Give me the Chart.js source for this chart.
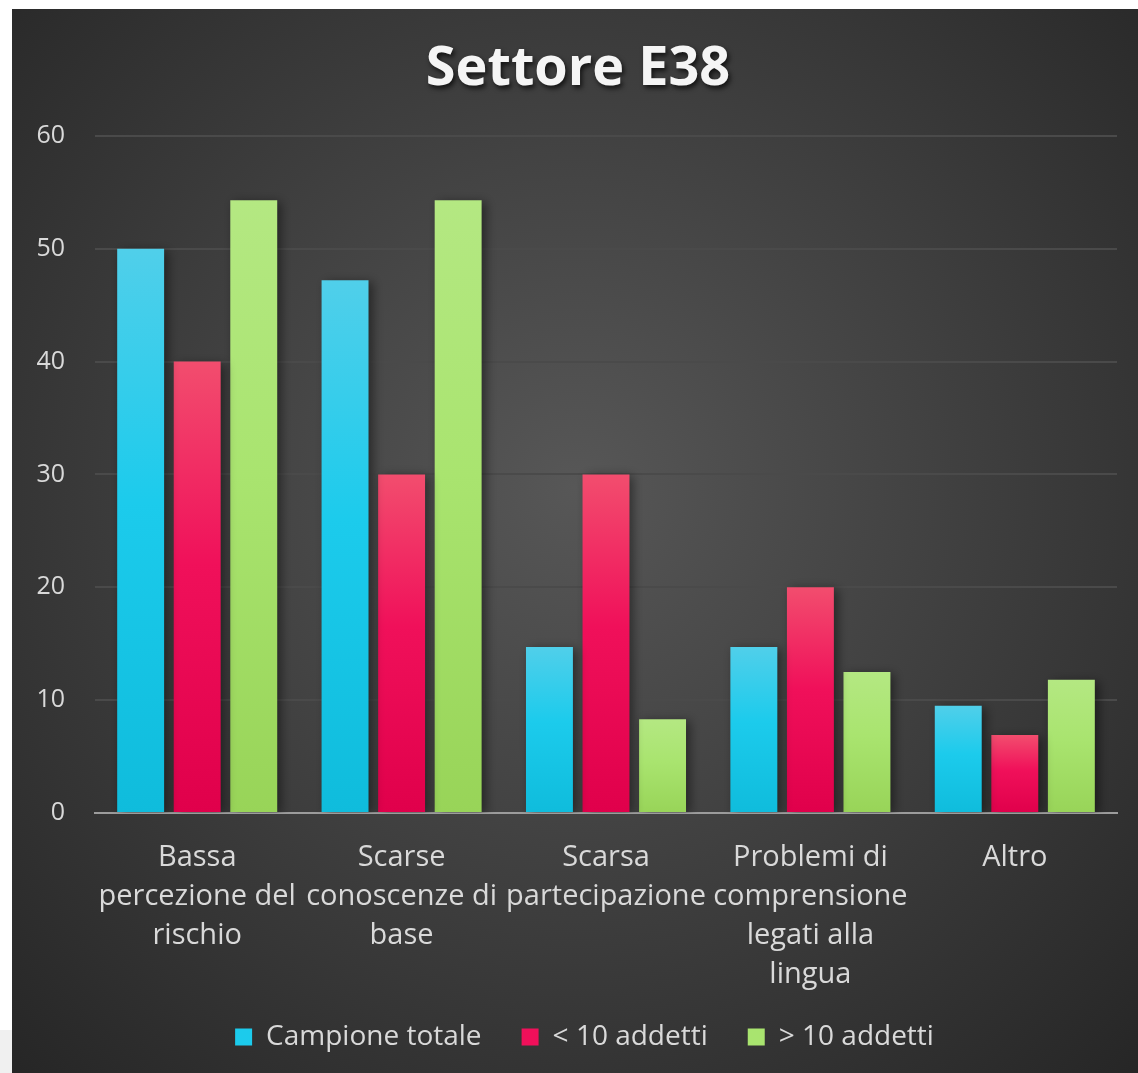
<!DOCTYPE html>
<html lang="it">
<head>
<meta charset="utf-8">
<title>Settore E38</title>
<script src="https://cdn.jsdelivr.net/npm/chart.js@4"></script>
<style>
    body  { margin: 0; background: #ffffff; }
    #cornice {
        position: absolute;
        left: 12px; top: 9px;
        width: 1126px; height: 1064px;
    }
    #angolo {
        position: absolute;
        left: 0; top: 1030px;
        width: 12px; height: 43px;
        background: #f0f0f0;
    }
</style>
</head>
<body>
<div id="angolo"></div>
<div id="cornice"><canvas id="grafico"></canvas></div>

<script>
// ---------------------------------------------------------------------------
// DATI
// ---------------------------------------------------------------------------

const CATEGORIE = [
    ['Bassa', 'percezione del', 'rischio'],
    ['Scarse', 'conoscenze di', 'base'],
    ['Scarsa', 'partecipazione'],
    ['Problemi di', 'comprensione', 'legati alla', 'lingua'],
    ['Altro'],
];
const SERIE        = ['Campione totale', '< 10 addetti', '> 10 addetti'];
const CAMPIONE     = [50, 47.2, 14.7, 14.7, 9.5];
const MENO_10      = [40, 30, 30, 20, 6.9];
const PIU_10       = [54.3, 54.3, 8.3, 12.5, 11.8];
const Y_MIN        = 0;
const Y_MAX        = 60;
const Y_PASSO      = 10;
const TITOLO       = 'Settore E38';

// ---------------------------------------------------------------------------
// STILE
// ---------------------------------------------------------------------------

const FONT       = "'Open Sans', 'DejaVu Sans', sans-serif";
const TESTO      = '#d9d9d9';
const TITOLO_PX  = 54;
const TITOLO_PAD = { top: 10, bottom: 34 };

// colori sfumati: alto, centro, basso
const COLORI = [
    ['#50cfea', '#1ccbec', '#0fbcdc'],
    ['#f24d6e', '#f0105a', '#e0004b'],
    ['#b4e882', '#a9e46f', '#98d458'],
];

function sfumatura(i) {
    return ctx => {
        const chart = ctx.chart;
        if (!chart.chartArea || ctx.type !== 'data') return COLORI[i][1];
        const y    = chart.scales.y;
        const top  = y.getPixelForValue(ctx.raw);
        const base = y.getPixelForValue(0);
        if (!isFinite(top) || !isFinite(base) || base - top < 1) return COLORI[i][1];
        const g = chart.ctx.createLinearGradient(0, top, 0, base);
        g.addColorStop(0,    COLORI[i][0]);
        g.addColorStop(0.45, COLORI[i][1]);
        g.addColorStop(1,    COLORI[i][2]);
        return g;
    };
}

// ---------------------------------------------------------------------------
// PLUGIN
// ---------------------------------------------------------------------------

const sfondo = {
    id: 'sfondo',
    beforeDraw(chart) {
        const { ctx, width, height } = chart;
        const g = ctx.createRadialGradient(width * 0.5, height * 0.45, 0,
                                           width * 0.5, height * 0.45, width * 0.75);
        g.addColorStop(0, '#575757');
        g.addColorStop(1, '#242424');
        ctx.save();
        ctx.fillStyle = g;
        ctx.fillRect(0, 0, width, height);
        ctx.restore();
    },
};

// la legenda originale è centrata un po' più a destra e sta più in alto
const spostaLegenda = {
    id: 'spostaLegenda',
    afterLayout(chart) {
        const lg = chart.legend;
        if (!lg) return;
        lg.left   += 20;
        lg.right  += 20;
        lg.top    -= 8;
        lg.bottom -= 8;
    },
};

const ombraBarre = {
    id: 'ombraBarre',
    beforeDatasetsDraw(chart) {
        const ctx = chart.ctx;
        ctx.save();
        ctx.shadowColor   = 'rgba(0,0,0,0.45)';
        ctx.shadowBlur    = 10;
        ctx.shadowOffsetX = 4;
        ctx.shadowOffsetY = 2;
    },
    afterDatasetsDraw(chart) {
        chart.ctx.restore();
    },
};

// titolo con ombra (il blocco titolo standard riserva solo lo spazio)
const titoloOmbra = {
    id: 'titoloOmbra',
    afterDraw(chart) {
        const tb  = chart.titleBlock;
        const ctx = chart.ctx;
        if (!tb) return;
        const y = tb.top + TITOLO_PAD.top + TITOLO_PX * 1.2 / 2;
        ctx.save();
        ctx.font          = `bold ${TITOLO_PX}px ${FONT}`;
        ctx.textAlign     = 'center';
        ctx.textBaseline  = 'middle';
        ctx.shadowColor   = 'rgba(0,0,0,0.7)';
        ctx.shadowBlur    = 5;
        ctx.shadowOffsetX = 2;
        ctx.shadowOffsetY = 3;
        ctx.fillStyle     = '#f5f5f5';
        ctx.fillText(TITOLO, chart.width / 2 + 3, y);
        ctx.restore();
    },
};

// ---------------------------------------------------------------------------
// GRAFICO
// ---------------------------------------------------------------------------

const datasets = [CAMPIONE, MENO_10, PIU_10].map((valori, i) => ({
    label:              SERIE[i],
    data:               valori,
    backgroundColor:    sfumatura(i),
    borderWidth:        0,
    categoryPercentage: 0.83,
    barPercentage:      0.83,
}));

new Chart(document.getElementById('grafico'), {
    type: 'bar',
    data: { labels: CATEGORIE, datasets },
    plugins: [sfondo, spostaLegenda, ombraBarre, titoloOmbra],
    options: {
        responsive:          true,
        maintainAspectRatio: false,
        animation:           false,
        layout: { padding: { left: 0, right: 21, top: 18, bottom: 4 } },
        plugins: {
            tooltip: { enabled: false },
            title: {
                display: true,
                text:    TITOLO,
                color:   'rgba(0,0,0,0)',
                font:    { family: FONT, size: TITOLO_PX, weight: 'bold' },
                padding: TITOLO_PAD,
            },
            legend: {
                position: 'bottom',
                labels: {
                    color:     TESTO,
                    font:      { family: FONT, size: 28 },
                    boxWidth:  17,
                    boxHeight: 17,
                    padding:   40,
                    generateLabels: chart => SERIE.map((nome, i) => ({
                        text:         nome,
                        fillStyle:    COLORI[i][1],
                        strokeStyle:  COLORI[i][1],
                        lineWidth:    0,
                        hidden:       false,
                        datasetIndex: i,
                        fontColor:    TESTO,
                    })),
                },
            },
        },
        scales: {
            x: {
                grid:   { display: false },
                border: { display: true, color: '#9c9c9c', width: 2 },
                ticks: {
                    color:       TESTO,
                    font:        { family: FONT, size: 29, lineHeight: 1.345 },
                    maxRotation: 0,
                    autoSkip:    false,
                    padding:     17,
                },
                afterFit: scala => { scala.height = 178; },
            },
            y: {
                min: Y_MIN,
                max: Y_MAX,
                grid: {
                    color:     ctx => ctx.tick && ctx.tick.value === 0 ? 'rgba(0,0,0,0)' : '#4a4a4a',
                    lineWidth: 2,
                    drawTicks: false,
                },
                border: { display: false },
                ticks: {
                    stepSize: Y_PASSO,
                    color:    TESTO,
                    font:     { family: FONT, size: 25 },
                    padding:  30,
                },
                afterFit: scala => { scala.width = 83; },
            },
        },
    },
});
</script>
</body>
</html>
